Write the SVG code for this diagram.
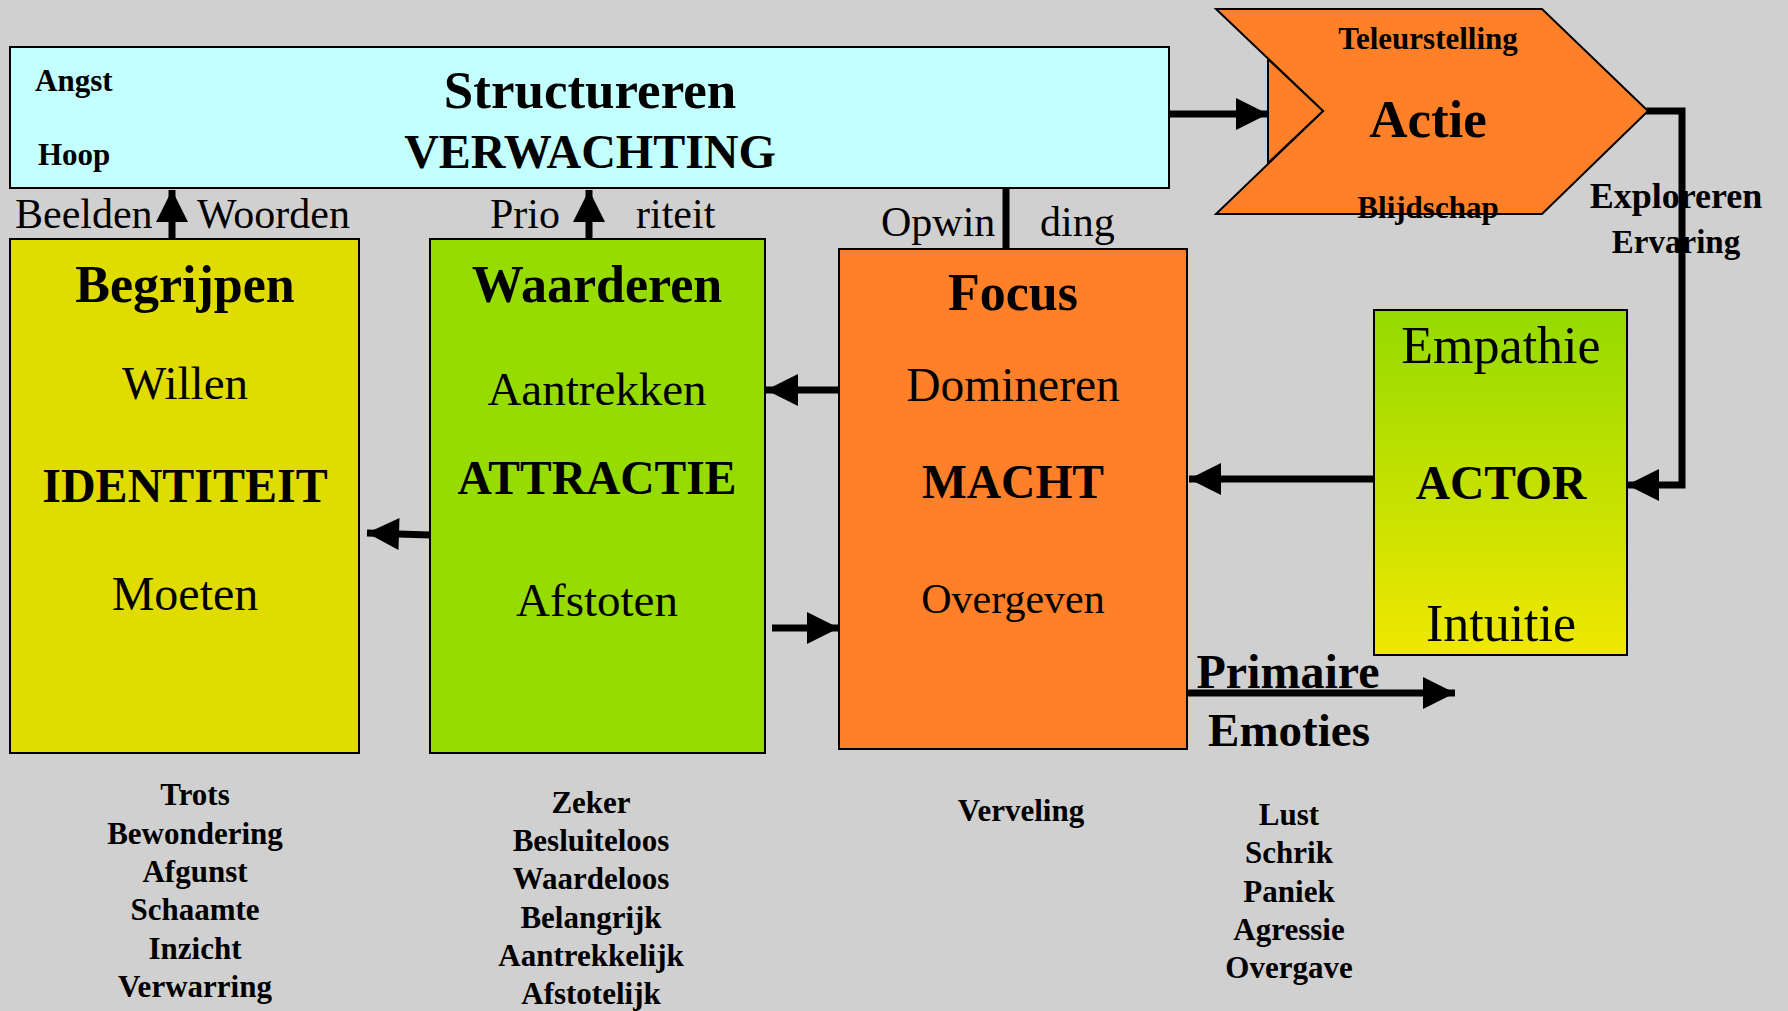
<svg xmlns="http://www.w3.org/2000/svg" width="1788" height="1011" viewBox="0 0 1788 1011">
<defs>
<style>
text{font-family:"Liberation Serif","Times New Roman",serif;fill:#000;text-anchor:middle}
.b{font-weight:bold}
.box{stroke:#000;stroke-width:2}
.con{stroke:#000;stroke-width:7;fill:none}
.s{text-anchor:start}
</style>
<marker id="ah" viewBox="0 0 10 10" refX="10" refY="5" markerWidth="34" markerHeight="32" markerUnits="userSpaceOnUse" orient="auto">
<path d="M0,0 L10,5 L0,10 z" fill="#000"/>
</marker>
<linearGradient id="gact" x1="0" y1="0" x2="0" y2="1">
<stop offset="0" stop-color="#94DA00"/>
<stop offset="1" stop-color="#F0E800"/>
</linearGradient>
</defs>
<rect x="0" y="0" width="1788" height="1011" fill="#D0D0D0"/>

<g id="connectors">
<line class="con" x1="172" y1="239" x2="172" y2="190" marker-end="url(#ah)"/>
<line class="con" x1="589" y1="239" x2="589" y2="190" marker-end="url(#ah)"/>
<line class="con" x1="1006" y1="188" x2="1006" y2="249"/>
<line class="con" x1="1169" y1="114" x2="1268" y2="114" marker-end="url(#ah)"/>
<polyline class="con" points="1646,111 1682,111 1682,485 1627,485" marker-end="url(#ah)"/>
<line class="con" x1="430" y1="535" x2="367" y2="533" marker-end="url(#ah)"/>
<line class="con" x1="839" y1="390" x2="766" y2="390" marker-end="url(#ah)"/>
<line class="con" x1="772" y1="628" x2="839" y2="628" marker-end="url(#ah)"/>
<line class="con" x1="1374" y1="479" x2="1189" y2="479" marker-end="url(#ah)"/>
<line class="con" x1="1187" y1="693" x2="1455" y2="693" marker-end="url(#ah)"/>
</g>

<g id="structureren">
<rect class="box" x="10" y="47" width="1159" height="141" fill="#C4FFFF"/>
<text class="b s" x="35" y="91" font-size="31">Angst</text>
<text class="b s" x="38" y="165" font-size="31">Hoop</text>
<text class="b" x="590" y="108" font-size="53">Structureren</text>
<text class="b" x="590" y="168" font-size="48">VERWACHTING</text>
</g>

<g id="actie">
<polygon class="box" points="1216,9 1542,9 1648,111 1542,214 1216,214 1323,111" fill="#FF8028"/>
<polygon points="1268,59 1323,111 1268,163" fill="#FF8028" stroke="#000" stroke-width="2"/>
<text class="b" x="1428" y="49" font-size="31">Teleurstelling</text>
<text class="b" x="1428" y="137" font-size="53">Actie</text>
<text class="b" x="1428" y="218" font-size="31">Blijdschap</text>
</g>

<g id="labels">
<text class="s" x="15" y="228" font-size="42">Beelden</text>
<text class="s" x="197" y="228" font-size="42">Woorden</text>
<text class="s" x="490" y="228" font-size="42">Prio</text>
<text class="s" x="636" y="228" font-size="42">riteit</text>
<text class="s" x="881" y="236" font-size="42">Opwin</text>
<text class="s" x="1040" y="236" font-size="42">ding</text>
<text class="b" x="1676" y="208" font-size="36">Exploreren</text>
<text class="b" x="1676" y="253" font-size="33">Ervaring</text>
<text class="b" x="1288" y="688" font-size="48">Primaire</text>
<text class="b" x="1289" y="746" font-size="47">Emoties</text>
</g>

<g id="begrijpen">
<rect class="box" x="10" y="239" width="349" height="514" fill="#E0DC00"/>
<text class="b" x="185" y="302" font-size="52">Begrijpen</text>
<text x="185" y="399" font-size="47">Willen</text>
<text class="b" x="185" y="502" font-size="48">IDENTITEIT</text>
<text x="185" y="610" font-size="48">Moeten</text>
</g>

<g id="waarderen">
<rect class="box" x="430" y="239" width="335" height="514" fill="#96DC00"/>
<text class="b" x="597" y="302" font-size="52">Waarderen</text>
<text x="597" y="405" font-size="47">Aantrekken</text>
<text class="b" x="597" y="494" font-size="47.5">ATTRACTIE</text>
<text x="597" y="616" font-size="47">Afstoten</text>
</g>

<g id="focus">
<rect class="box" x="839" y="249" width="348" height="500" fill="#FF8028"/>
<text class="b" x="1013" y="310" font-size="52">Focus</text>
<text x="1013" y="401" font-size="47.5">Domineren</text>
<text class="b" x="1013" y="498" font-size="47.5">MACHT</text>
<text x="1013" y="613" font-size="42">Overgeven</text>
</g>

<g id="actor">
<rect class="box" x="1374" y="310" width="253" height="345" fill="url(#gact)"/>
<text x="1501" y="363" font-size="52">Empathie</text>
<text class="b" x="1501" y="499" font-size="47.5">ACTOR</text>
<text x="1501" y="641" font-size="52">Intuitie</text>
</g>

<g id="lijst-begrijpen" class="b" font-size="31">
<text class="b" x="195" y="805">Trots</text>
<text class="b" x="195" y="844">Bewondering</text>
<text class="b" x="195" y="882">Afgunst</text>
<text class="b" x="195" y="920">Schaamte</text>
<text class="b" x="195" y="959">Inzicht</text>
<text class="b" x="195" y="997">Verwarring</text>
</g>

<g id="lijst-waarderen" font-size="31">
<text class="b" x="591" y="813">Zeker</text>
<text class="b" x="591" y="851">Besluiteloos</text>
<text class="b" x="591" y="889">Waardeloos</text>
<text class="b" x="591" y="928">Belangrijk</text>
<text class="b" x="591" y="966">Aantrekkelijk</text>
<text class="b" x="591" y="1004">Afstotelijk</text>
</g>

<g id="lijst-focus" font-size="31">
<text class="b" x="1021" y="821">Verveling</text>
</g>

<g id="lijst-primair" font-size="31">
<text class="b" x="1289" y="825">Lust</text>
<text class="b" x="1289" y="863">Schrik</text>
<text class="b" x="1289" y="902">Paniek</text>
<text class="b" x="1289" y="940">Agressie</text>
<text class="b" x="1289" y="978">Overgave</text>
</g>
</svg>
